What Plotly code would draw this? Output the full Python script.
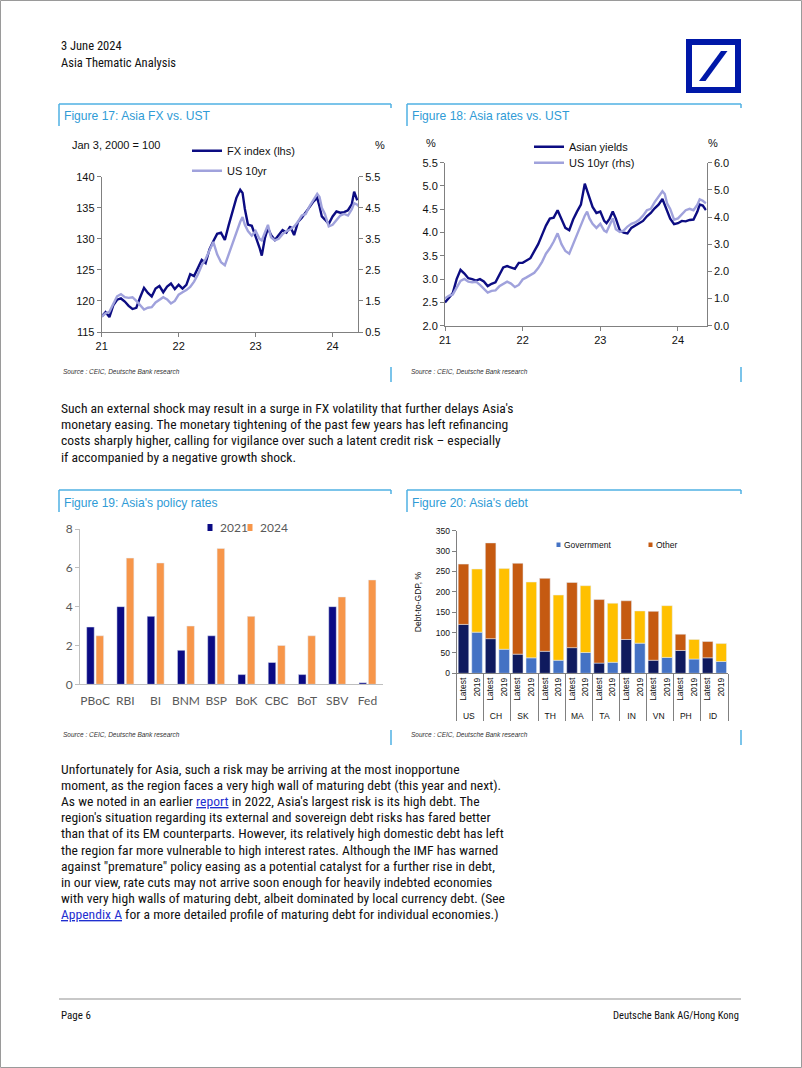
import plotly.graph_objects as go

W, H = 802, 1068
def X(px): return px / W
def Y(py): return 1 - py / H

# ---------------- data ----------------
# time axis (year - 2000, decimal)
t = [21.00, 21.05, 21.10, 21.15, 21.20, 21.25, 21.30, 21.35, 21.40, 21.45,
     21.50, 21.55, 21.60, 21.65, 21.70, 21.75, 21.80, 21.85, 21.90, 21.95,
     22.00, 22.05, 22.10, 22.15, 22.20, 22.25, 22.30, 22.35, 22.40, 22.45,
     22.50, 22.55, 22.60, 22.65, 22.70, 22.75, 22.80, 22.83, 22.86, 22.90,
     22.95, 23.00, 23.05, 23.08, 23.12, 23.16, 23.20, 23.25, 23.30, 23.35,
     23.40, 23.45, 23.50, 23.55, 23.60, 23.65, 23.70, 23.75, 23.80, 23.83,
     23.86, 23.90, 23.95, 24.00, 24.05, 24.10, 24.15, 24.20, 24.25, 24.28,
     24.32, 24.36]

fx_index = [117.5, 118.2, 117.4, 119.3, 120.2, 120.4, 119.9, 119.2, 118.7, 118.9,
            120.6, 122.1, 121.3, 120.7, 122.0, 122.4, 121.4, 122.3, 122.8, 121.9,
            122.6, 122.0, 122.6, 124.3, 124.0, 125.2, 126.6, 126.1, 128.3, 129.6,
            130.8, 131.0, 129.8, 132.2, 134.2, 136.6, 137.9, 137.4, 134.8, 132.3,
            132.1, 130.4, 128.6, 127.3, 130.1, 131.7, 130.6, 129.8, 130.6, 131.4,
            131.0, 132.0, 130.6, 132.7, 133.4, 134.2, 135.1, 136.0, 136.6, 135.2,
            133.6, 133.1, 132.4, 133.6, 134.4, 134.2, 134.3, 134.6, 135.6, 137.6,
            136.2, None]

us_10yr = [1.00, 1.10, 1.15, 1.40, 1.65, 1.72, 1.62, 1.60, 1.62, 1.50,
           1.35, 1.22, 1.28, 1.30, 1.45, 1.55, 1.62, 1.55, 1.42, 1.50,
           1.70, 1.78, 1.85, 1.95, 2.12, 2.35, 2.65, 2.85, 3.10, 3.40,
           3.00, 2.75, 2.65, 3.00, 3.35, 3.75, 4.05, 4.20, 3.95, 3.75,
           3.60, 3.75, 3.50, 3.45, 3.70, 3.95, 3.55, 3.45, 3.50, 3.65,
           3.75, 3.80, 3.90, 4.05, 4.25, 4.30, 4.55, 4.75, 4.95, 4.85,
           4.50, 4.30, 3.90, 3.95, 4.10, 4.25, 4.30, 4.25, 4.45, 4.65,
           4.60, 4.50]

asian_yields = [2.50, 2.60, 2.70, 3.00, 3.20, 3.12, 3.02, 3.00, 2.97, 3.00,
                2.95, 2.85, 2.90, 2.93, 3.10, 3.25, 3.28, 3.25, 3.22, 3.35,
                3.35, 3.40, 3.45, 3.60, 3.75, 3.95, 4.15, 4.30, 4.32, 4.48,
                4.30, 4.10, 4.05, 4.28, 4.45, 4.60, 5.05, 4.90, 4.70, 4.55,
                4.42, 4.45, 4.25, 4.20, 4.30, 4.45, 4.30, 4.05, 4.00, 3.98,
                4.10, 4.15, 4.20, 4.25, 4.35, 4.42, 4.52, 4.60, 4.72, 4.60,
                4.45, 4.30, 4.18, 4.20, 4.25, 4.24, 4.27, 4.28, 4.45, 4.60,
                4.58, 4.48]

year_ticks = [21, 22, 23, 24]
year_labels = ["21", "22", "23", "24"]

banks = ["PBoC", "RBI", "BI", "BNM", "BSP", "BoK", "CBC", "BoT", "SBV", "Fed"]
rate_2021 = [2.95, 4.00, 3.50, 1.75, 2.50, 0.50, 1.125, 0.50, 4.00, 0.08]
rate_2024 = [2.50, 6.50, 6.25, 3.00, 7.00, 3.50, 2.00, 2.50, 4.50, 5.375]

countries = ["US", "CH", "SK", "TH", "MA", "TA", "IN", "VN", "PH", "ID"]
periods = ["Latest", "2019"]
gov_latest = [120, 85, 47, 54, 63, 25, 83, 32, 56, 38]
total_latest = [268, 320, 270, 233, 223, 181, 178, 152, 96, 78]
gov_2019 = [101, 59, 38, 32, 51, 27, 74, 39, 35, 29]
total_2019 = [256, 257, 224, 192, 215, 172, 153, 166, 83, 73]

# ---------------- styles ----------------
ARIAL = "Liberation Sans, Arial, sans-serif"
BODY = "Liberation Sans Narrow, Arial Narrow, Roboto Condensed, Liberation Sans, sans-serif"
CALIBRI = "Lato, Carlito, Noto Sans, sans-serif"
NAVY = "#0c0c82"
LAV = "#a0a2dc"
BLUE_FRAME = "#4fb0e3"
TITLE_BLUE = "#2f9bd6"
AXIS = "#808080"
C2021, C2024 = "#0a0a84", "#f7964a"
C_GOV_L, C_GOV_19, C_OTH_L, C_OTH_19 = "#0f1a5e", "#4472c4", "#c55a11", "#ffc000"

fig = go.Figure()

# ---- Figure 17 ----
fig.add_trace(go.Scatter(x=t, y=fx_index, name="FX index (lhs)", mode="lines",
                         line=dict(color=NAVY, width=2.4), xaxis="x", yaxis="y",
                         legend="legend"))
fig.add_trace(go.Scatter(x=t, y=us_10yr, name="US 10yr", mode="lines",
                         line=dict(color=LAV, width=2.4), xaxis="x", yaxis="y2",
                         legend="legend5"))

# ---- Figure 18 ----
fig.add_trace(go.Scatter(x=t, y=asian_yields, name="Asian yields", mode="lines",
                         line=dict(color=NAVY, width=2.4), xaxis="x2", yaxis="y3",
                         legend="legend2"))
fig.add_trace(go.Scatter(x=t, y=us_10yr, name="US 10yr (rhs)", mode="lines",
                         line=dict(color=LAV, width=2.4), xaxis="x2", yaxis="y4",
                         legend="legend6"))

# ---- Figure 19 ----
fig.add_trace(go.Bar(x=banks, y=rate_2021, name="2021", marker_color=C2021,
                     width=0.25, offset=-0.28, xaxis="x3", yaxis="y5", showlegend=False))
fig.add_trace(go.Bar(x=banks, y=rate_2024, name="2024", marker_color=C2024,
                     width=0.25, offset=0.03, xaxis="x3", yaxis="y5", showlegend=False))

# ---- Figure 20 ----
outer = [c for c in countries for _ in periods]
inner = [p for _ in countries for p in periods]
def spread(vals, k):
    out = []
    for v in vals:
        pair = [None, None]
        pair[k] = v
        out.extend(pair)
    return out

other_latest = [tot - g for tot, g in zip(total_latest, gov_latest)]
other_2019 = [tot - g for tot, g in zip(total_2019, gov_2019)]

bar_common = dict(x=[outer, inner], width=0.78, offset=-0.39, xaxis="x4", yaxis="y6",
                  showlegend=False)
fig.add_trace(go.Bar(y=spread(gov_latest, 0), name="Government (latest)",
                     marker_color=C_GOV_L, **bar_common))
fig.add_trace(go.Bar(y=spread(gov_2019, 1), name="Government (2019)",
                     marker_color=C_GOV_19, **bar_common))
fig.add_trace(go.Bar(y=spread(other_latest, 0), base=spread(gov_latest, 0), name="Other (latest)",
                     marker_color=C_OTH_L, **bar_common))
fig.add_trace(go.Bar(y=spread(other_2019, 1), base=spread(gov_2019, 1), name="Other (2019)",
                     marker_color=C_OTH_19, **bar_common))

# ---------------- axes ----------------
line_ax = dict(showline=True, linecolor=AXIS, linewidth=1, showgrid=False, zeroline=False,
               ticks="outside", ticklen=4, tickcolor=AXIS, fixedrange=True)
f11 = dict(family=ARIAL, size=11, color="#111")

def leg(xp, ytop):
    return dict(x=X(xp), y=Y(ytop), xanchor="left", yanchor="top",
                bgcolor="rgba(0,0,0,0)", font=f11, tracegroupgap=0)

layout = dict(
    width=W, height=H, autosize=False,
    margin=dict(l=0, r=0, t=0, b=0, pad=0, autoexpand=False),
    paper_bgcolor="white", plot_bgcolor="rgba(0,0,0,0)",
    barmode="overlay", showlegend=True, hovermode=False,
    xaxis=dict(domain=[X(101.7), X(358)], range=[21, 24.33], tickvals=year_ticks,
               ticktext=year_labels, anchor="y", tickfont=f11, **line_ax),
    yaxis=dict(domain=[Y(332), Y(176.7)], range=[115, 140], dtick=5, anchor="x",
               tickfont=f11, **line_ax),
    yaxis2=dict(overlaying="y", side="right", range=[0.5, 5.5],
                tickvals=[0.5, 1.5, 2.5, 3.5, 4.5, 5.5], anchor="x", tickfont=f11, **line_ax),
    xaxis2=dict(domain=[X(445), X(706.7)], range=[21, 24.37], tickvals=year_ticks,
                ticktext=year_labels, anchor="y3", tickfont=f11, **line_ax),
    yaxis3=dict(domain=[Y(325.7), Y(162.7)], range=[2, 5.5], dtick=0.5, tickformat=".1f",
                anchor="x2", tickfont=f11, **line_ax),
    yaxis4=dict(overlaying="y3", side="right", range=[0, 6], dtick=1, tickformat=".1f",
                anchor="x2", tickfont=f11, **line_ax),
    xaxis3=dict(domain=[X(80), X(382.6)], type="category", anchor="y5",
                showline=True, linecolor="#bfbfbf", ticks="", showgrid=False,
                ticklabelstandoff=5,
                tickfont=dict(family=CALIBRI, size=12, color="#595959"), fixedrange=True),
    yaxis5=dict(domain=[Y(684.3), Y(529)], range=[0, 8], dtick=2, anchor="x3",
                showline=True, linecolor="#bfbfbf", ticks="outside", ticklen=4,
                tickcolor="#bfbfbf", showgrid=False, zeroline=False,
                tickfont=dict(family=CALIBRI, size=12, color="#595959"), fixedrange=True),
    xaxis4=dict(domain=[X(456.7), X(728)], type="multicategory", anchor="y6",
                showline=True, linecolor=AXIS, ticks="", showgrid=False, tickangle=-90,
                showdividers=True, dividercolor=AXIS, dividerwidth=1,
                tickfont=dict(family=ARIAL, size=8.5, color="#111"), fixedrange=True),
    yaxis6=dict(domain=[Y(673.3), Y(530.7)], range=[0, 350], dtick=50, anchor="x4",
                tickfont=dict(family=ARIAL, size=8.5, color="#111"),
                title=dict(text="Debt-to-GDP, %", font=dict(family=ARIAL, size=8.5, color="#111"),
                           standoff=12),
                **line_ax),
    legend=leg(187, 136.3),
    legend5=leg(187, 156.3),
    legend2=leg(529, 132.3),
    legend6=leg(529, 148.3),
)
fig.update_layout(**layout)

# ---------------- page text ----------------
ann = []
def txt(s, x, y, size, color="#111", family=BODY, xanchor="left", italic=False):
    ann.append(dict(text=s, x=X(x), y=Y(y), xref="paper", yref="paper",
                    xanchor=xanchor, yanchor="middle", showarrow=False,
                    font=dict(size=size, color=color, family=family,
                              style="italic" if italic else "normal")))

txt("3 June 2024", 59, 45, 12.5)
txt("Asia Thematic Analysis", 59, 63, 12.5)

txt("Figure 17: Asia FX vs. UST", 62, 116, 12.1, TITLE_BLUE, ARIAL)
txt("Figure 18: Asia rates vs. UST", 410, 116, 12.1, TITLE_BLUE, ARIAL)
txt("Figure 19: Asia's policy rates", 62, 503, 12.1, TITLE_BLUE, ARIAL)
txt("Figure 20: Asia's debt", 410, 503, 12.1, TITLE_BLUE, ARIAL)

src = "Source : CEIC, Deutsche Bank research"
for sx, sy in [(61, 372), (409, 372), (61, 734), (409, 734)]:
    txt(src, sx, sy, 6.5, "#333", ARIAL, italic=True)

txt("Jan 3, 2000 = 100", 70, 145, 11, "#111", ARIAL)
txt("%", 380, 145, 11, "#111", ARIAL, xanchor="center")
txt("%", 431, 143, 11, "#111", ARIAL, xanchor="center")
txt("%", 713, 143, 11, "#111", ARIAL, xanchor="center")

# legend keys for the two bar charts (square key + label)
shapes = []
def key(x0, y0, w, h, color):
    shapes.append(dict(type="rect", xref="paper", yref="paper", x0=X(x0), y0=Y(y0 + h),
                       x1=X(x0 + w), y1=Y(y0), fillcolor=color, line=dict(width=0)))
key(207.5, 524, 5, 7, C2021)
txt("2021", 218, 527.5, 12, "#595959", CALIBRI)
key(247.5, 524, 5, 7, C2024)
txt("2024", 258, 527.5, 12, "#595959", CALIBRI)
key(556.5, 542.5, 4, 4.5, C_GOV_19)
txt("Government", 561.5, 545, 8.5, "#111", ARIAL)
key(648.5, 542.5, 4, 4.5, C_OTH_L)
txt("Other", 653.5, 545, 8.5, "#111", ARIAL)

para1 = ["Such an external shock may result in a surge in FX volatility that further delays Asia's",
         "monetary easing. The monetary tightening of the past few years has left refinancing",
         "costs sharply higher, calling for vigilance over such a latent credit risk \u2013 especially",
         "if accompanied by a negative growth shock."]
LINK = '<span style="color:#1f2fd0;text-decoration:underline">%s</span>'
para2 = ["Unfortunately for Asia, such a risk may be arriving at the most inopportune",
         "moment, as the region faces a very high wall of maturing debt (this year and next).",
         "As we noted in an earlier " + LINK % "report" + " in 2022, Asia's largest risk is its high debt. The",
         "region's situation regarding its external and sovereign debt risks has fared better",
         "than that of its EM counterparts. However, its relatively high domestic debt has left",
         "the region far more vulnerable to high interest rates. Although the IMF has warned",
         "against \"premature\" policy easing as a potential catalyst for a further rise in debt,",
         "in our view, rate cuts may not arrive soon enough for heavily indebted economies",
         "with very high walls of maturing debt, albeit dominated by local currency debt. (See",
         LINK % "Appendix A" + " for a more detailed profile of maturing debt for individual economies.)"]
for i, s in enumerate(para1):
    txt(s, 59, 408 + i * 16.2, 13.6)
for i, s in enumerate(para2):
    txt(s, 59, 769 + i * 16.1, 13.6)

txt("Page 6", 59, 1015, 11)
txt("Deutsche Bank AG/Hong Kong", 741, 1015, 10.5, xanchor="right")
fig.update_layout(annotations=ann)

# ---------------- shapes ----------------
def seg(x0, y0, x1, y1, color=BLUE_FRAME, width=1.5):
    shapes.append(dict(type="line", xref="paper", yref="paper", x0=X(x0), y0=Y(y0),
                       x1=X(x1), y1=Y(y1), line=dict(color=color, width=width)))

# page border
shapes.append(dict(type="rect", xref="paper", yref="paper", x0=X(0.5), y0=Y(0.5),
                   x1=X(801.5), y1=Y(1067.5), line=dict(color="#9a9a9a", width=1)))
# figure frames
for (xl, xr, ytop, ybot) in [(59, 391, 104, 382), (407, 741, 104, 382),
                             (59, 391, 490, 745), (407, 741, 490, 745)]:
    seg(xl, ytop, xr, ytop)
    seg(xl, ytop, xl, ytop + 22)
    seg(xr, ytop, xr, ytop + 4)
    seg(xr, ybot - 15, xr, ybot)
# footer line
seg(59, 999, 741, 999, "#c8c8c8", 2)
# logo
shapes.append(dict(type="rect", xref="paper", yref="paper", x0=X(686), y0=Y(93),
                   x1=X(741), y1=Y(39), fillcolor="#0018a8", line=dict(width=0)))
shapes.append(dict(type="rect", xref="paper", yref="paper", x0=X(692), y0=Y(87),
                   x1=X(735), y1=Y(45), fillcolor="white", line=dict(width=0)))
pts = [(699, 81), (705.5, 81), (727.5, 51), (721, 51)]
path = "M " + " L ".join("%f,%f" % (X(a), Y(b)) for a, b in pts) + " Z"
shapes.append(dict(type="path", xref="paper", yref="paper", path=path,
                   fillcolor="#0018a8", line=dict(width=0)))
fig.update_layout(shapes=shapes)

fig.write_html("out.html", config={"displayModeBar": False},
               post_script="document.body.style.margin='0';")
